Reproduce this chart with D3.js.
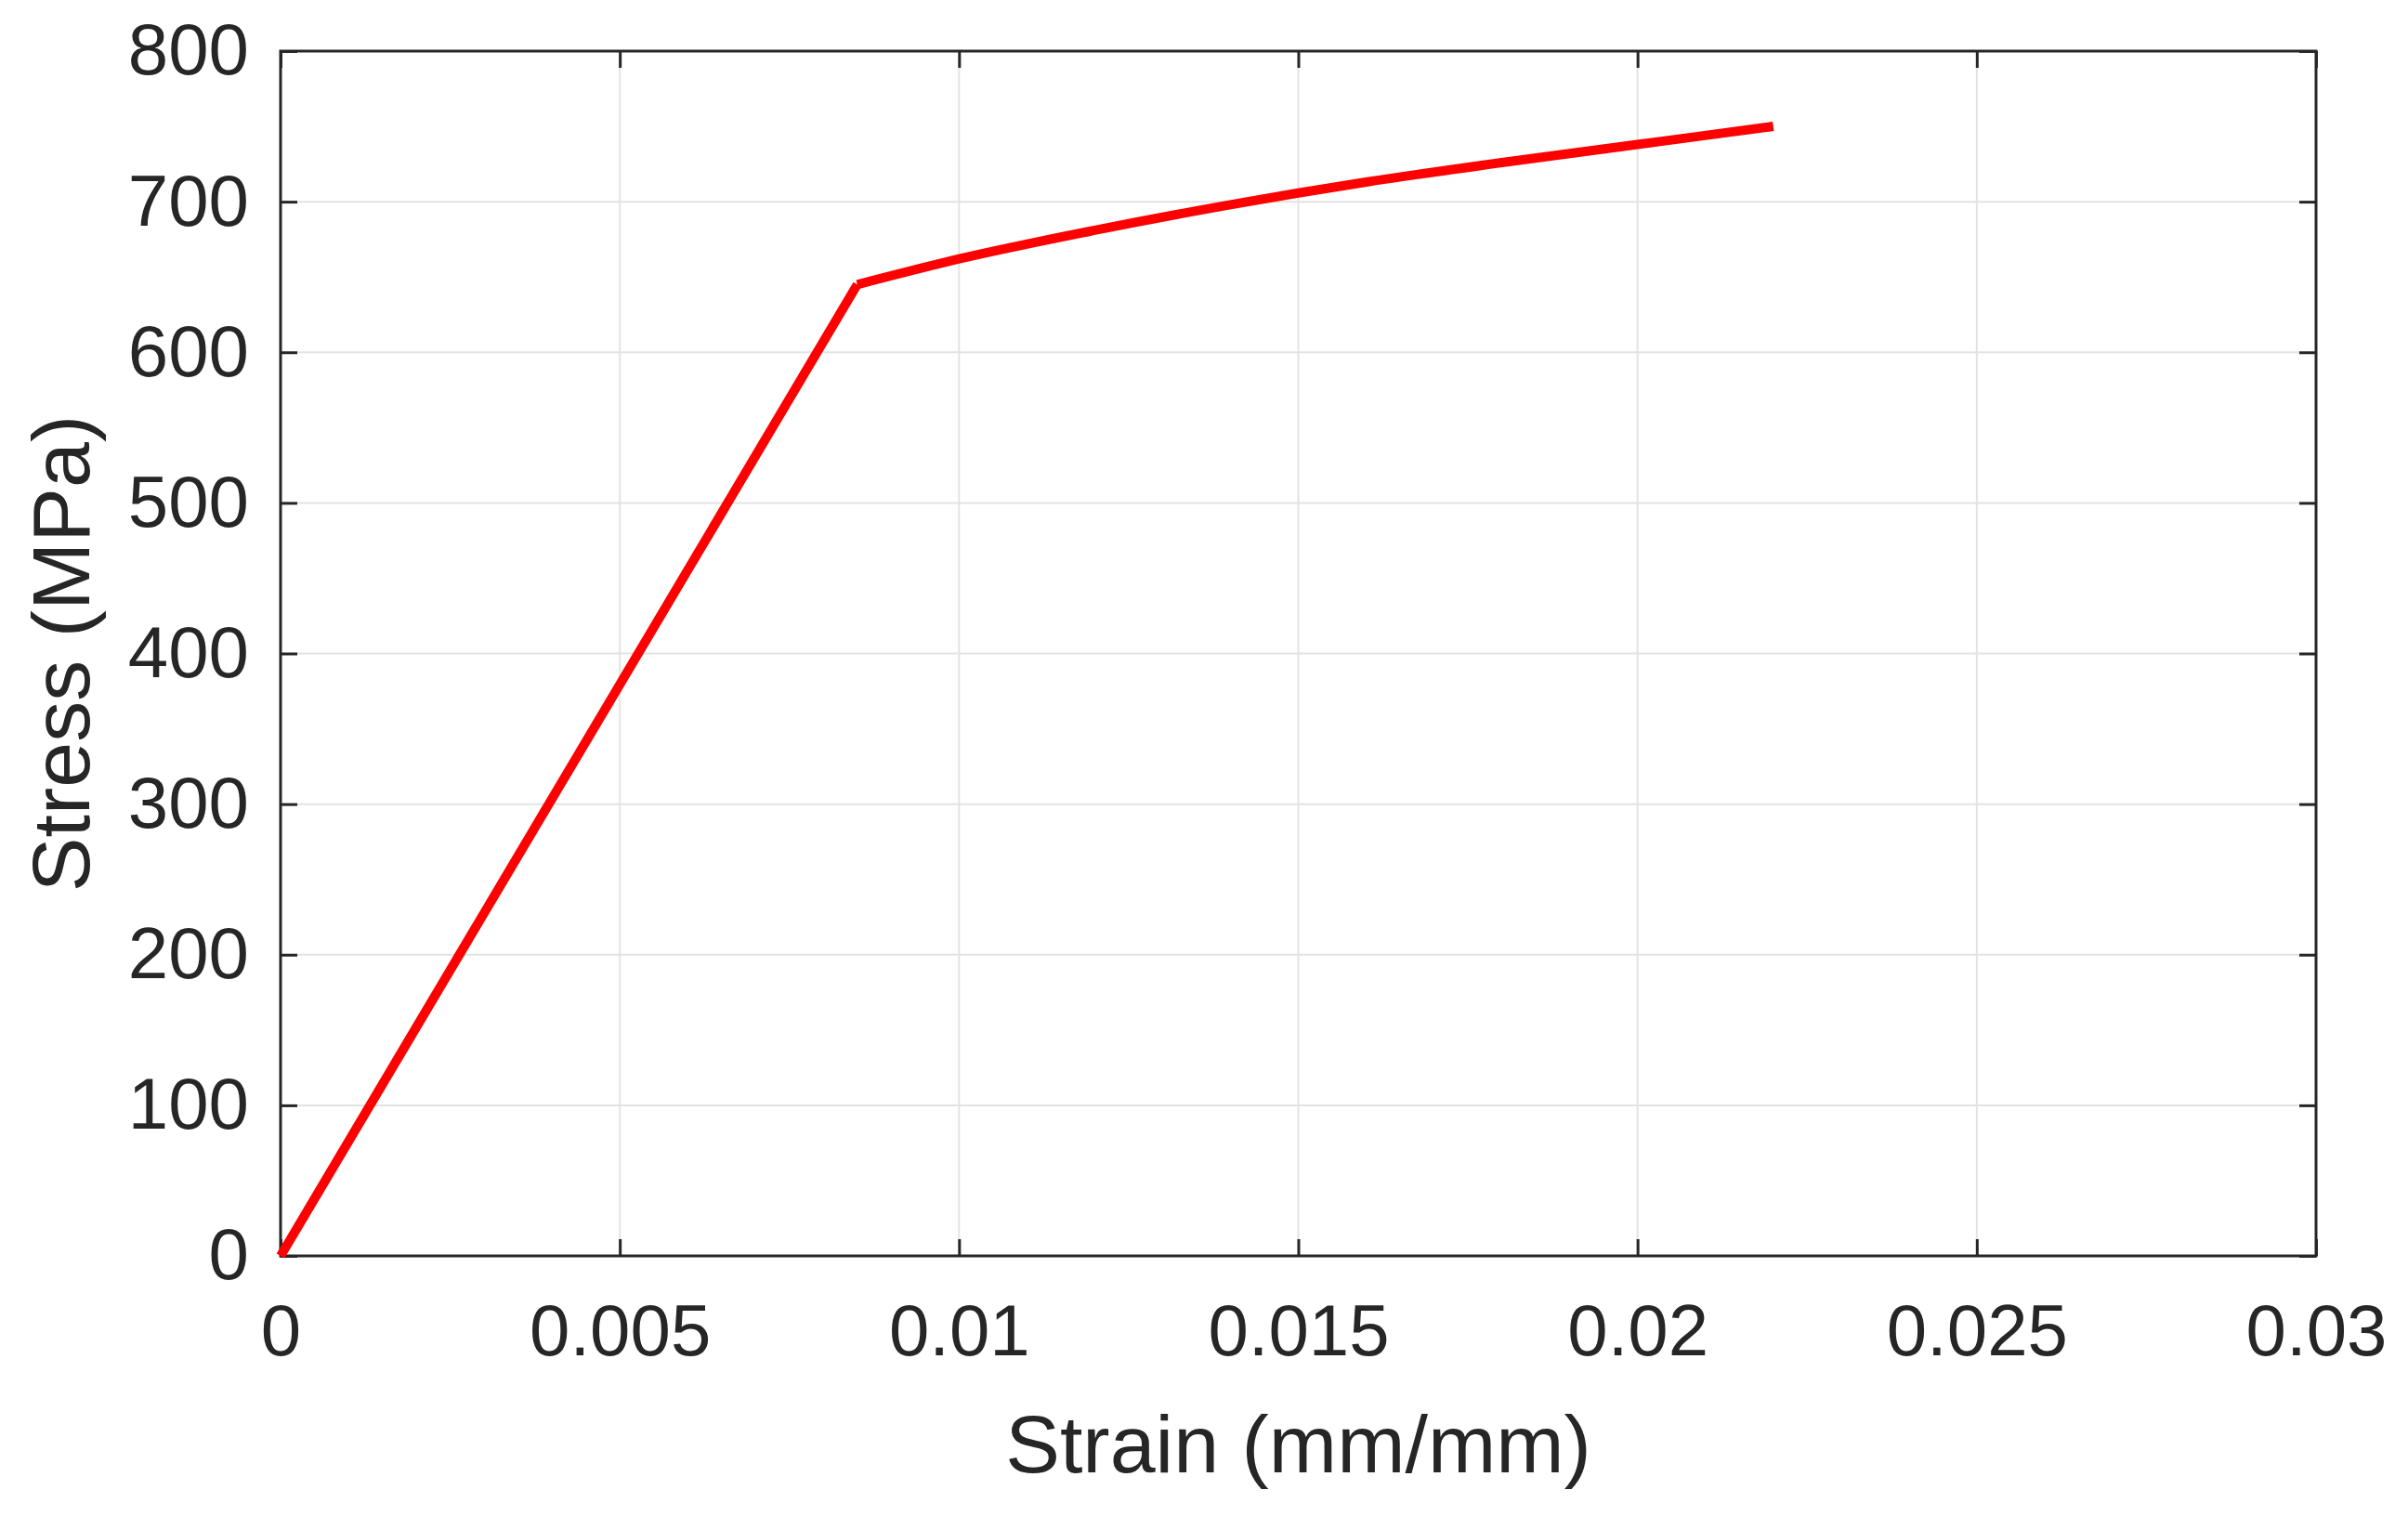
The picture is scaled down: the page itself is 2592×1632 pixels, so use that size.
<!DOCTYPE html><html><head><meta charset="utf-8"><script src="https://cdn.jsdelivr.net/npm/d3@7"></script>
<style>body{margin:0;background:#fff}text{font-family:"Liberation Sans",Arial,sans-serif;fill:#262626}</style></head><body><svg id="c" width="2592" height="1632"></svg><script>
const elasticStrain=[0,0.0085];
const elasticStress=[0,645];
const plasticStrain=[0.0085,0.01,0.012,0.014,0.016,0.018,0.02,0.022];
const plasticStress=[645,662,681,698,713,726,738,750];
const xTicks=[0,0.005,0.01,0.015,0.02,0.025,0.03];
const yTicks=[0,100,200,300,400,500,600,700,800];
const L=302,R=2493,T=55,B=1352;
const svg=d3.select("#c");
const x=d3.scaleLinear().domain([0,0.03]).range([L,R]);
const y=d3.scaleLinear().domain([0,800]).range([B,T]);
const g=svg.append("g");
g.selectAll(".gx").data(xTicks).join("line").attr("x1",d=>x(d)).attr("x2",d=>x(d)).attr("y1",T).attr("y2",B).attr("stroke","#e3e3e3").attr("stroke-width",2);
g.selectAll(".gy").data(yTicks).join("line").attr("y1",d=>y(d)).attr("y2",d=>y(d)).attr("x1",L).attr("x2",R).attr("stroke","#e3e3e3").attr("stroke-width",2);
const tl=18;
const ax=svg.append("g").attr("transform",`translate(0,${B})`).call(d3.axisBottom(x).tickValues(xTicks).tickFormat(d=>d===0?"0":String(+d.toFixed(3))).tickSizeInner(-tl).tickSizeOuter(0).tickPadding(52));
const ay=svg.append("g").attr("transform",`translate(${L},0)`).call(d3.axisLeft(y).tickValues(yTicks).tickSizeInner(-tl).tickSizeOuter(0).tickPadding(34));
svg.append("g").attr("transform",`translate(0,${T})`).call(d3.axisTop(x).tickValues(xTicks).tickFormat("").tickSizeInner(-tl).tickSizeOuter(0));
svg.append("g").attr("transform",`translate(${R},0)`).call(d3.axisRight(y).tickValues(yTicks).tickFormat("").tickSizeInner(-tl).tickSizeOuter(0));
svg.selectAll(".domain").remove();
svg.selectAll(".tick line").attr("stroke","#262626").attr("stroke-width",3);
svg.selectAll(".tick text").attr("font-size",78).attr("fill","#262626");
ax.selectAll(".tick text").attr("dy","0.71em");
svg.append("rect").attr("x",L).attr("y",T).attr("width",R-L).attr("height",B-T).attr("fill","none").attr("stroke","#262626").attr("stroke-width",3);
const pts=elasticStrain.map((s,i)=>[s,elasticStress[i]]).concat(plasticStrain.slice(1).map((s,i)=>[s,plasticStress[i+1]]));
const line=d3.line().x(d=>x(d[0])).y(d=>y(d[1]));
svg.append("path").datum(elasticStrain.map((s,i)=>[s,elasticStress[i]])).attr("fill","none").attr("stroke","#ff0000").attr("stroke-width",10).attr("stroke-linejoin","round").attr("d",line);
svg.append("path").datum(plasticStrain.map((s,i)=>[s,plasticStress[i]])).attr("fill","none").attr("stroke","#ff0000").attr("stroke-width",10).attr("stroke-linejoin","round").attr("d",line.curve(d3.curveMonotoneX));
svg.append("text").attr("x",(L+R)/2).attr("y",1585).attr("text-anchor","middle").attr("font-size",88).text("Strain (mm/mm)");
svg.append("text").attr("transform",`translate(96,${(T+B)/2}) rotate(-90)`).attr("text-anchor","middle").attr("font-size",88).text("Stress (MPa)");
</script></body></html>
